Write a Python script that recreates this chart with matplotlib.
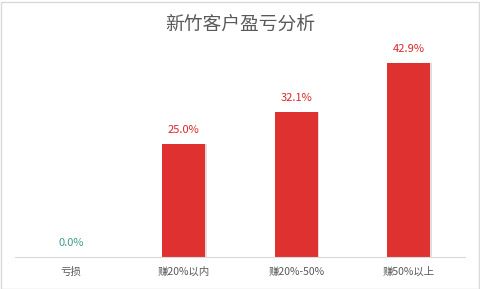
import numpy as np
import matplotlib.pyplot as plt
from matplotlib.patches import Rectangle

plt.rcParams['font.family'] = ['Noto Sans CJK SC', 'DejaVu Sans']

categories = ['亏损', '赚20%以内', '赚20%-50%', '赚50%以上']
values = [0.0, 25.0, 32.1, 42.9]
label_colors = ['#3f9a8c', '#d9262b', '#d9262b', '#d9262b']

fig = plt.figure(figsize=(4.8, 2.89), dpi=100)
ax = fig.add_axes([15/480, 1 - 257/289, 450/480, 207/289])

x = np.arange(len(categories))
# soft shadow on the right of each bar
ax.bar(x + 0.015, values, width=0.38, color='#c8c8c8', alpha=0.6, zorder=1)
ax.bar(x, values, width=0.38, color='#e03131', zorder=2)

for xi, v, c in zip(x, values, label_colors):
    ax.text(xi, v + 2.0, f'{v:.1f}%', ha='center', va='bottom',
            fontsize=8, color=c)

ax.set_xlim(-0.5, 3.5)
ax.set_ylim(0, 45.8)
ax.set_xticks(x)
ax.set_xticklabels(categories, fontsize=7.5, color='#595959')
ax.tick_params(axis='x', length=0, pad=7)
ax.set_yticks([])
for s in ['top', 'right', 'left']:
    ax.spines[s].set_visible(False)
ax.spines['bottom'].set_color('#d9d9d9')

fig.text(0.5, 1 - 24/289, '新竹客户盈亏分析', ha='center', va='center',
         fontsize=13.5, color='#595959')

fig.patches.append(Rectangle((0.5/480, 0.5/289), 478/480, 287/289,
                             transform=fig.transFigure, fill=False,
                             edgecolor='#d9d9d9', linewidth=1))

fig.savefig('out.png', dpi=100)
